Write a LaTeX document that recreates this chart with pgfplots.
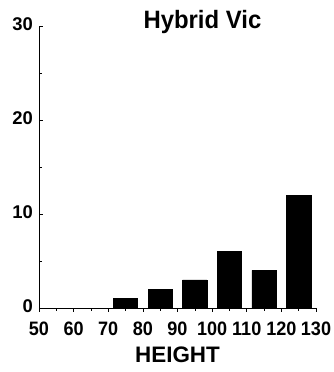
\documentclass[border=0pt]{standalone}
\usepackage{fontspec}
\setmainfont{Liberation Sans}
\usepackage{pgfplots}
\pgfplotsset{compat=1.18}

\begin{document}
\begin{tikzpicture}
\begin{axis}[
  at={(39bp,64bp)}, anchor=south west,
  scale only axis,
  width=277bp, height=282bp,
  xmin=50, xmax=130,
  ymin=0, ymax=30,
  axis x line=bottom, axis y line=left,
  axis line style={-, line width=0.8pt},
  tick align=inside,
  major tick length=4bp, minor tick length=3bp,
  tick style={line width=0.6pt, black},
  xtick={50,60,...,130},
  ytick={0,10,20,30},
  minor x tick num=1, minor y tick num=1,
  /pgf/number format/assume math mode=true,
  every x tick label/.append style={font=\bfseries\fontsize{19.5}{19.5}\selectfont,
    xscale=0.93, anchor=base, inner sep=0pt, yshift=-23bp},
  every y tick label/.append style={font=\bfseries\fontsize{18.5}{18.5}\selectfont,
    anchor=base east, inner sep=0pt, xshift=-6bp, yshift=-4bp},
  clip=false,
  ybar, bar width=7,
]
% counts per height class
\addplot[fill=black, draw=black, line width=0.4pt] coordinates {
  (75,1) (85,2) (95,3) (105,6) (115,4) (125,12)
};
\node[anchor=base, font=\bfseries\fontsize{24}{24}\selectfont, yscale=1.05] at (axis cs:97.2,29.7) {Hybrid Vic};
\node[anchor=base, font=\bfseries\fontsize{22.5}{22.5}\selectfont] at ([yshift=-54.7bp]rel axis cs:0.5,0) {HEIGHT};
\end{axis}
\pgfresetboundingbox
\path[use as bounding box] (0,0) rectangle (334bp,372bp);
\end{tikzpicture}
\end{document}
